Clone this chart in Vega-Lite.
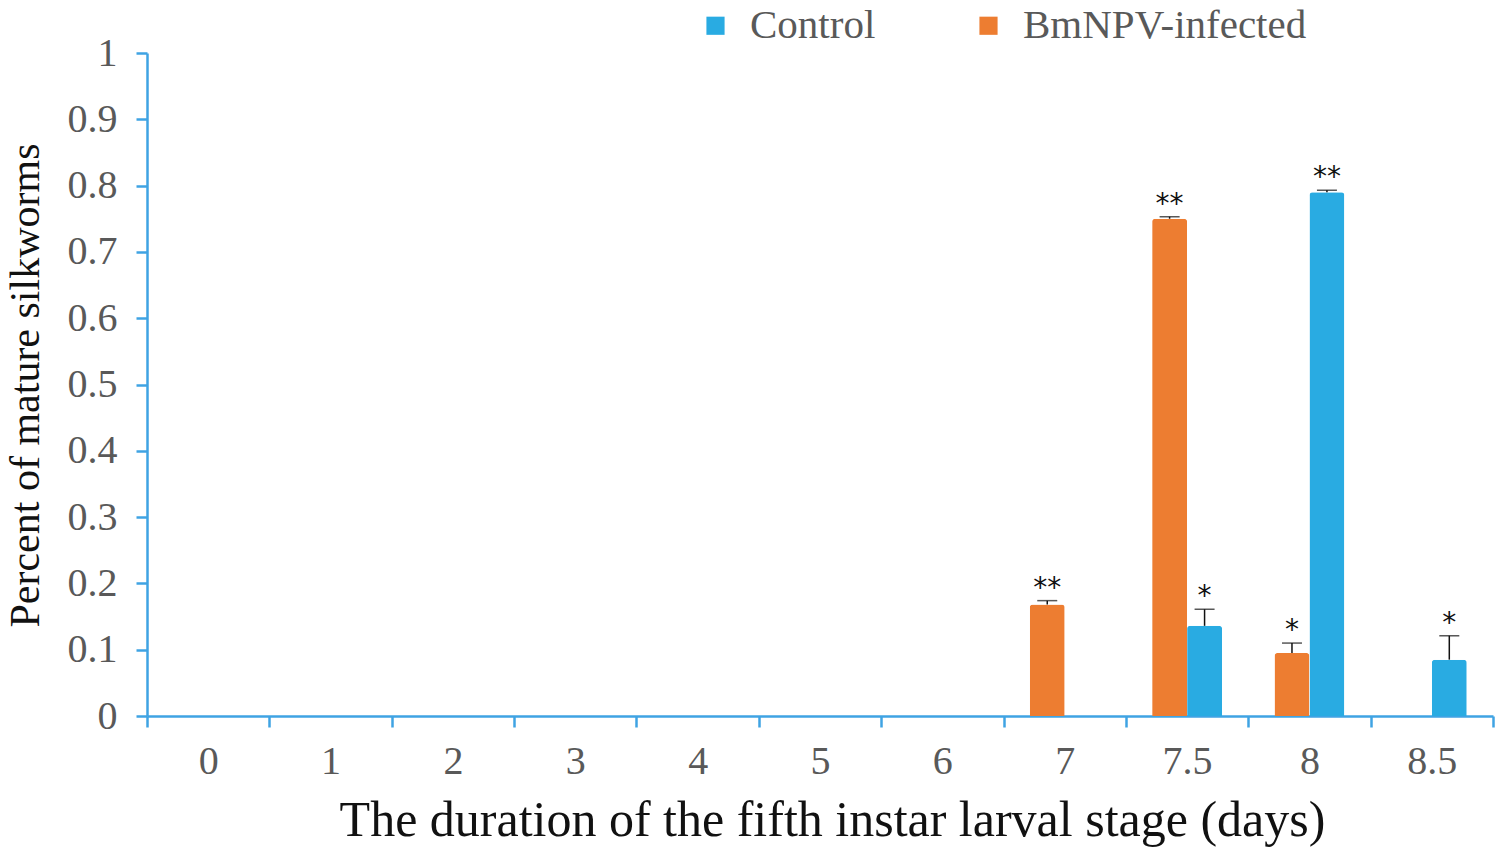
{
  "$schema": "https://vega.github.io/schema/vega-lite/v6.json",
  "autosize": "none",
  "width": 1346,
  "height": 663,
  "padding": {"left": 147, "top": 53, "right": 16, "bottom": 137},
  "background": "white",
  "config": {
    "view": {"stroke": null},
    "font": "Liberation Serif"
  },
  "data": {
    "values": [
      {"day": "0", "group": "Control", "value": 0},
      {"day": "0", "group": "BmNPV-infected", "value": 0},
      {"day": "1", "group": "Control", "value": 0},
      {"day": "1", "group": "BmNPV-infected", "value": 0},
      {"day": "2", "group": "Control", "value": 0},
      {"day": "2", "group": "BmNPV-infected", "value": 0},
      {"day": "3", "group": "Control", "value": 0},
      {"day": "3", "group": "BmNPV-infected", "value": 0},
      {"day": "4", "group": "Control", "value": 0},
      {"day": "4", "group": "BmNPV-infected", "value": 0},
      {"day": "5", "group": "Control", "value": 0},
      {"day": "5", "group": "BmNPV-infected", "value": 0},
      {"day": "6", "group": "Control", "value": 0},
      {"day": "6", "group": "BmNPV-infected", "value": 0},
      {"day": "7", "group": "Control", "value": 0},
      {"day": "7", "group": "BmNPV-infected", "value": 0.168, "upper": 0.174, "sig": "**"},
      {"day": "7.5", "group": "Control", "value": 0.136, "upper": 0.161, "sig": "*"},
      {"day": "7.5", "group": "BmNPV-infected", "value": 0.75, "upper": 0.753, "sig": "**"},
      {"day": "8", "group": "Control", "value": 0.79, "upper": 0.793, "sig": "**"},
      {"day": "8", "group": "BmNPV-infected", "value": 0.095, "upper": 0.11, "sig": "*"},
      {"day": "8.5", "group": "Control", "value": 0.085, "upper": 0.121, "sig": "*"},
      {"day": "8.5", "group": "BmNPV-infected", "value": 0}
    ]
  },
  "encoding": {
    "x": {
      "field": "day",
      "type": "nominal",
      "scale": {"domain": ["0","1","2","3","4","5","6","7","7.5","8","8.5"], "paddingInner": 0, "paddingOuter": 0},
      "axis": {
        "title": "The duration of the fifth instar larval stage (days)",
        "titleFont": "Liberation Serif",
        "titleFontSize": 50,
        "titleFontWeight": "normal",
        "titleColor": "#111111",
        "titleBaseline": "alphabetic",
        "titleX": 685,
        "titleY": 119,
        "labelAngle": 0,
        "labelFont": "Liberation Serif",
        "labelFontSize": 40,
        "labelColor": "#595959",
        "labelPadding": 14,
        "tickBand": "extent",
        "tickSize": 11,
        "tickWidth": 2.5,
        "tickColor": "#3FA3E3",
        "domainColor": "#3FA3E3",
        "domainWidth": 2.5
      }
    },
    "xOffset": {
      "field": "group",
      "type": "nominal",
      "scale": {"domain": ["BmNPV-infected", "Control"], "paddingInner": 0, "paddingOuter": 0.75}
    }
  },
  "layer": [
    {
      "mark": {"type": "bar", "cornerRadiusTopLeft": 3, "cornerRadiusTopRight": 3},
      "encoding": {
        "y": {
          "field": "value",
          "type": "quantitative",
          "scale": {"domain": [0, 1], "nice": false},
          "axis": {
            "title": "Percent of mature silkworms",
            "titleFont": "Liberation Serif",
            "titleFontSize": 42,
            "titleFontWeight": "normal",
            "titleColor": "#111111",
            "titleBaseline": "alphabetic",
            "titleX": -109,
            "titleY": 332,
            "values": [0, 0.1, 0.2, 0.3, 0.4, 0.5, 0.6, 0.7, 0.8, 0.9, 1],
            "format": "~g",
            "grid": false,
            "labelFont": "Liberation Serif",
            "labelFontSize": 40,
            "labelColor": "#595959",
            "labelPadding": 19,
            "tickSize": 11,
            "tickWidth": 2.5,
            "tickColor": "#3FA3E3",
            "domainColor": "#3FA3E3",
            "domainWidth": 2.5
          }
        },
        "color": {
          "field": "group",
          "type": "nominal",
          "scale": {"domain": ["Control", "BmNPV-infected"], "range": ["#29ABE2", "#ED7D31"]},
          "legend": {
            "title": null,
            "orient": "none",
            "direction": "horizontal",
            "legendX": 548,
            "legendY": -48,
            "symbolType": "square",
            "symbolSize": 330,
            "symbolStrokeWidth": 0,
            "labelFont": "Liberation Serif",
            "labelFontSize": 41,
            "labelColor": "#595959",
            "labelOffset": 14,
            "columnPadding": 92,
            "labelLimit": 400
          }
        }
      }
    },
    {
      "transform": [{"filter": "datum.upper != null"}],
      "mark": {"type": "rule", "color": "#111111", "strokeWidth": 1.5},
      "encoding": {
        "y": {"field": "value", "type": "quantitative"},
        "y2": {"field": "upper"}
      }
    },
    {
      "transform": [{"filter": "datum.upper != null"}],
      "mark": {"type": "tick", "color": "#111111", "thickness": 1.5, "size": 20, "orient": "horizontal"},
      "encoding": {
        "y": {"field": "upper", "type": "quantitative"}
      }
    },
    {
      "transform": [{"filter": "datum.upper != null"}],
      "mark": {"type": "text", "font": "DejaVu Sans", "fontSize": 28, "color": "#111111", "baseline": "bottom", "dy": 2},
      "encoding": {
        "y": {"field": "upper", "type": "quantitative"},
        "text": {"field": "sig"}
      }
    }
  ]
}
